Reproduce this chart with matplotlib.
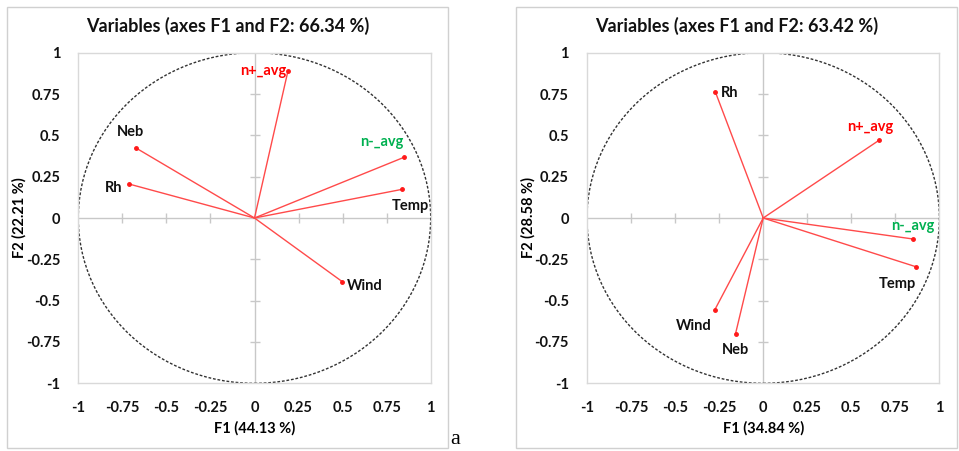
import matplotlib
matplotlib.use("Agg")
import matplotlib.pyplot as plt
from matplotlib.patches import Ellipse, Rectangle
import numpy as np

# PCA correlation circles, two periods
variables_a = ["n+_avg", "Neb", "Rh", "n-_avg", "Temp", "Wind"]
f1_a = [0.19, -0.675, -0.71, 0.848, 0.836, 0.498]
f2_a = [0.89, 0.425, 0.205, 0.367, 0.173, -0.385]
title_a = "Variables (axes F1 and F2: 66.34 %)"
xlabel_a = "F1 (44.13 %)"
ylabel_a = "F2 (22.21 %)"

variables_b = ["Rh", "n+_avg", "n-_avg", "Temp", "Wind", "Neb"]
f1_b = [-0.272, 0.66, 0.85, 0.87, -0.276, -0.157]
f2_b = [0.764, 0.472, -0.127, -0.296, -0.558, -0.70]
title_b = "Variables (axes F1 and F2: 63.42 %)"
xlabel_b = "F1 (34.84 %)"
ylabel_b = "F2 (28.58 %)"

ticks = [-1, -0.75, -0.5, -0.25, 0, 0.25, 0.5, 0.75, 1]
tick_labels = ["-1", "-0.75", "-0.5", "-0.25", "0", "0.25", "0.5", "0.75", "1"]

label_colors = {"n+_avg": "#ff0000", "n-_avg": "#00b050"}

# label placement: (dx, dy in points, ha, va)
place_a = {
    "n+_avg": (-1, 0, "right", "center"),
    "Neb": (-4, 6, "center", "bottom"),
    "Rh": (-5, -3, "right", "center"),
    "n-_avg": (0, 6, "right", "bottom"),
    "Temp": (6, -7, "center", "top"),
    "Wind": (3, -3, "left", "center"),
}
place_b = {
    "Rh": (4, -1, "left", "center"),
    "n+_avg": (-7, 4, "center", "bottom"),
    "n-_avg": (0, 4, "center", "bottom"),
    "Temp": (0, -7, "right", "top"),
    "Wind": (-2, -6, "right", "top"),
    "Neb": (0, -7, "center", "top"),
}

plt.rcParams["font.family"] = ["Lato", "DejaVu Sans"]
plt.rcParams["font.weight"] = "bold"

W, H = 959, 451
AX_W, AX_H = 352.4, 330.6
fig = plt.figure(figsize=(W / 100, H / 100), dpi=100)


def panel(left_px, names, xs, ys, xlabel, ylabel, place):
    ax = fig.add_axes([left_px / W, 1 - 383.3 / H, AX_W / W, AX_H / H])
    ax.set_xlim(-1, 1)
    ax.set_ylim(-1, 1)
    for s in ax.spines.values():
        s.set_color("#d9d9d9")
        s.set_linewidth(1)
    ax.set_xticks(ticks)
    ax.set_xticklabels(tick_labels)
    ax.set_yticks(ticks)
    ax.set_yticklabels(tick_labels)
    ax.tick_params(length=0, labelsize=10.5, pad=13, colors="#111111")
    for lab in ax.get_xticklabels() + ax.get_yticklabels():
        lab.set_fontweight("bold")

    # centre axes with small ticks
    ax.axhline(0, color="#c8c8c8", lw=1, zorder=1)
    ax.axvline(0, color="#c8c8c8", lw=1, zorder=1)
    inner = [t for t in ticks if t not in (-1, 0, 1)]
    ax.plot(inner, [0] * len(inner), ls="none", marker="|", ms=7, mew=1,
            color="#c8c8c8", zorder=1)
    ax.plot([0] * len(inner), inner, ls="none", marker="_", ms=7, mew=1,
            color="#c8c8c8", zorder=1)

    circ = Ellipse((0, 0), 2, 2, fill=False, ls=(0, (2, 1.3)), lw=1,
                   ec="#333333", zorder=2)
    ax.add_patch(circ)

    for n, x, y in zip(names, xs, ys):
        ax.plot([0, x], [0, y], color="#ff4a4a", lw=1, zorder=3)
        ax.plot(x, y, "o", ms=2.5, color="#ff1a1a", zorder=4)
        dx, dy, ha, va = place[n]
        ax.annotate(n, (x, y), xytext=(dx, dy), textcoords="offset points",
                    ha=ha, va=va, fontsize=10.5, fontweight="bold",
                    color=label_colors.get(n, "#111111"))

    ax.set_xlabel(xlabel, fontsize=10.5, fontweight="bold", va="center")
    ax.set_ylabel(ylabel, fontsize=10.5, fontweight="bold", va="center")
    ax.xaxis.set_label_coords(0.5, -(428 - 383.3) / AX_H)
    ax.yaxis.set_label_coords(-(left_px - (19 if left_px < 300 else 528)) / AX_W, 0.5)
    return ax


panel(78.3, variables_a, f1_a, f2_a, xlabel_a, ylabel_a, place_a)
panel(587.0, variables_b, f1_b, f2_b, xlabel_b, ylabel_b, place_b)

# titles centred on each framed panel
fig.text(227.5 / W, 1 - 26 / H, title_a, ha="center", va="center",
         fontsize=13, fontweight="bold", color="#111111")
fig.text(736.5 / W, 1 - 26 / H, title_b, ha="center", va="center",
         fontsize=13, fontweight="bold", color="#111111")

# panel borders
for x0 in (7, 516):
    fig.add_artist(Rectangle((x0 / W, 1 - 448 / H), 441 / W, 441 / H,
                             transform=fig.transFigure, fill=False,
                             ec="#d0d0d0", lw=1))

fig.text(450 / W, 1 - 444 / H, "a", ha="left", va="baseline",
         fontsize=16, family="Liberation Serif", fontweight="normal")

fig.savefig("out.png", dpi=100)
